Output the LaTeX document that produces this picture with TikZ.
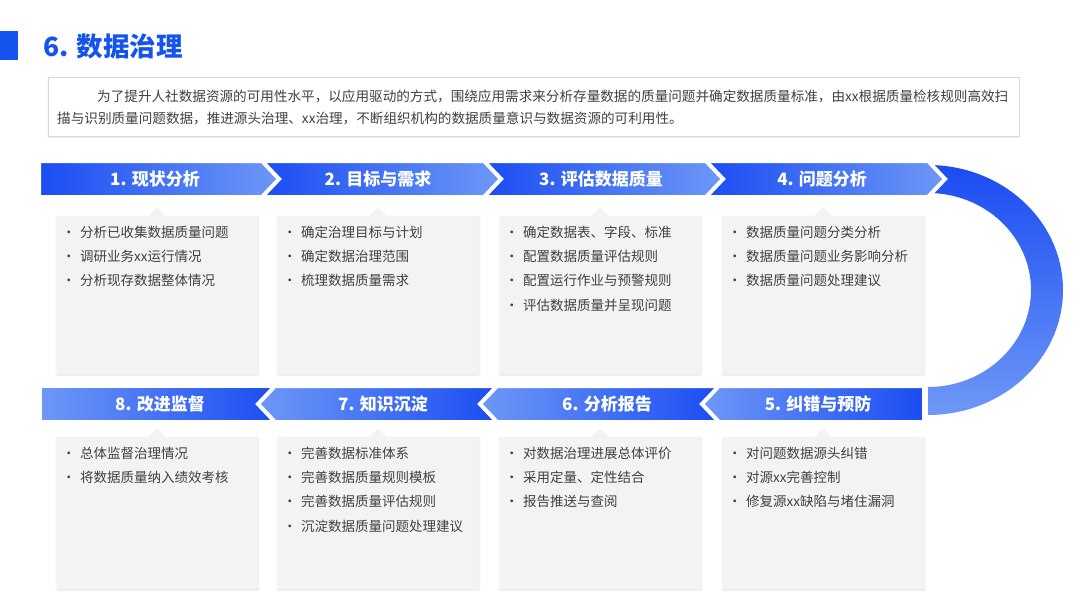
\documentclass[tikz,border=0pt]{standalone}
\usepackage{fontspec}
\setmainfont{Noto Sans CJK SC}
\usepackage{xcolor}
\definecolor{accent}{HTML}{1A4CF2}
\definecolor{accentlight}{HTML}{6E98F6}
\definecolor{titleblue}{HTML}{1553EE}
\definecolor{cardgray}{HTML}{F2F3F5}
\definecolor{textgray}{HTML}{404040}
\usepackage{tikz}
\usetikzlibrary{shadows.blur}

\tikzset{
  banner/.style={draw=white, line width=4pt, line join=miter},
  bannertext/.style={inner sep=0pt, text=white, font=\bfseries\fontsize{17}{20}\selectfont},
  item/.style={anchor=west, inner sep=0pt, text=textgray, font=\fontsize{13.5}{16}\selectfont},
  desctext/.style={anchor=west, inner sep=0pt, text=textgray, font=\fontsize{13.6}{16}\selectfont},
  cardbox/.style={fill=cardgray, blur shadow={shadow blur steps=6, shadow xshift=0pt, shadow yshift=-1pt, shadow opacity=12}},
}
\newcommand{\dotitem}[1]{\makebox[14pt][l]{\hspace*{-4pt}\textbullet}#1}

\begin{document}
\begin{tikzpicture}[x=1pt, y=-1pt]
  \useasboundingbox (0,0) rectangle (1080,608);

  % title
  \fill[titleblue] (0,31) rectangle (18,60);
  \node[anchor=west, inner sep=0pt, text=titleblue, font=\bfseries\fontsize{26.5}{30}\selectfont] (title) at (43,46) {6. 数据治理};

  % intro box
  \draw[draw=black!15, fill=white, blur shadow={shadow blur steps=5, shadow xshift=0pt, shadow yshift=-1pt, shadow opacity=10}] (48,77) rectangle (1019,136);
  \node[desctext] (desc1) at (97,96) {为了提升人社数据资源的可用性水平，以应用驱动的方式，围绕应用需求来分析存量数据的质量问题并确定数据质量标准，由xx根据质量检核规则高效扫};
  \node[desctext] (desc2) at (57,118) {描与识别质量问题数据，推进源头治理、xx治理，不断组织机构的数据质量意识与数据资源的可利用性。};

  % ring on the right
  \shade[top color=accent, bottom color=accentlight]
    (928,165) arc[start angle=-90, end angle=90, x radius=135, y radius=125]
    -- (928,387) arc[start angle=90, end angle=-90, x radius=103, y radius=97] -- cycle;

  % top row of banners, drawn right to left
  \foreach \k in {3,2,1,0}{
    \pgfmathsetmacro{\xa}{39+222*\k}
    \shadedraw[banner, left color=accent, right color=accentlight]
      (\xa,161) -- (\xa+223,161) -- (\xa+240,179) -- (\xa+223,197) -- (\xa,197) -- cycle;
  }
  \foreach \t/\c [count=\i] in {1. 现状分析/155, 2. 目标与需求/378, 3. 评估数据质量/601, 4. 问题分析/822}
    \node[bannertext] (top\i) at (\c,179) {\t};

  % bottom row of banners, drawn left to right
  \shadedraw[banner, left color=accentlight, right color=accent]
    (40,386) -- (279,386) -- (279,422) -- (40,422) -- cycle;
  \foreach \t/\r in {258/499, 480/721, 702/924}
    \shadedraw[banner, left color=accentlight, right color=accent]
      (\t,404) -- (\t+17,386) -- (\r,386) -- (\r,422) -- (\t+17,422) -- cycle;
  \foreach \t/\c [count=\i] in {8. 改进监督/160, 7. 知识沉淀/383, 6. 分析报告/607, 5. 纠错与预防/818}
    \node[bannertext] (bot\i) at (\c,404) {\t};

  % cards
  \foreach \x in {57,278,500,723}{
    \fill[cardbox] (\x,216) -- (\x+92,216) -- (\x+100,208) -- (\x+108,216)
      -- (\x+201,216) -- (\x+201,374) -- (\x,374) -- cycle;
    \fill[cardbox] (\x,437) -- (\x+92,437) -- (\x+100,429) -- (\x+108,437)
      -- (\x+201,437) -- (\x+201,589) -- (\x,589) -- cycle;
  }

  % card texts, top row
  \foreach \t [count=\i from 0] in {分析已收集数据质量问题, 调研业务xx运行情况, 分析现存数据整体情况}
    \node[item] (c1-\i) at (66,232+24.3*\i) {\dotitem{\t}};
  \foreach \t [count=\i from 0] in {确定治理目标与计划, 确定数据治理范围, 梳理数据质量需求}
    \node[item] (c2-\i) at (287,232+24.3*\i) {\dotitem{\t}};
  \foreach \t [count=\i from 0] in {确定数据表、字段、标准, 配置数据质量评估规则, 配置运行作业与预警规则, 评估数据质量并呈现问题}
    \node[item] (c3-\i) at (509,232+24.3*\i) {\dotitem{\t}};
  \foreach \t [count=\i from 0] in {数据质量问题分类分析, 数据质量问题业务影响分析, 数据质量问题处理建议}
    \node[item] (c4-\i) at (732,232+24.3*\i) {\dotitem{\t}};

  % card texts, bottom row
  \foreach \t [count=\i from 0] in {总体监督治理情况, 将数据质量纳入绩效考核}
    \node[item] (c8-\i) at (66,453+24.4*\i) {\dotitem{\t}};
  \foreach \t [count=\i from 0] in {完善数据标准体系, 完善数据质量规则模板, 完善数据质量评估规则, 沉淀数据质量问题处理建议}
    \node[item] (c7-\i) at (287,453+24.4*\i) {\dotitem{\t}};
  \foreach \t [count=\i from 0] in {对数据治理进展总体评价, 采用定量、定性结合, 报告推送与查阅}
    \node[item] (c6-\i) at (509,453+24.4*\i) {\dotitem{\t}};
  \foreach \t [count=\i from 0] in {对问题数据源头纠错, 对源xx完善控制, 修复源xx缺陷与堵住漏洞}
    \node[item] (c5-\i) at (732,453+24.4*\i) {\dotitem{\t}};
\end{tikzpicture}
\end{document}
